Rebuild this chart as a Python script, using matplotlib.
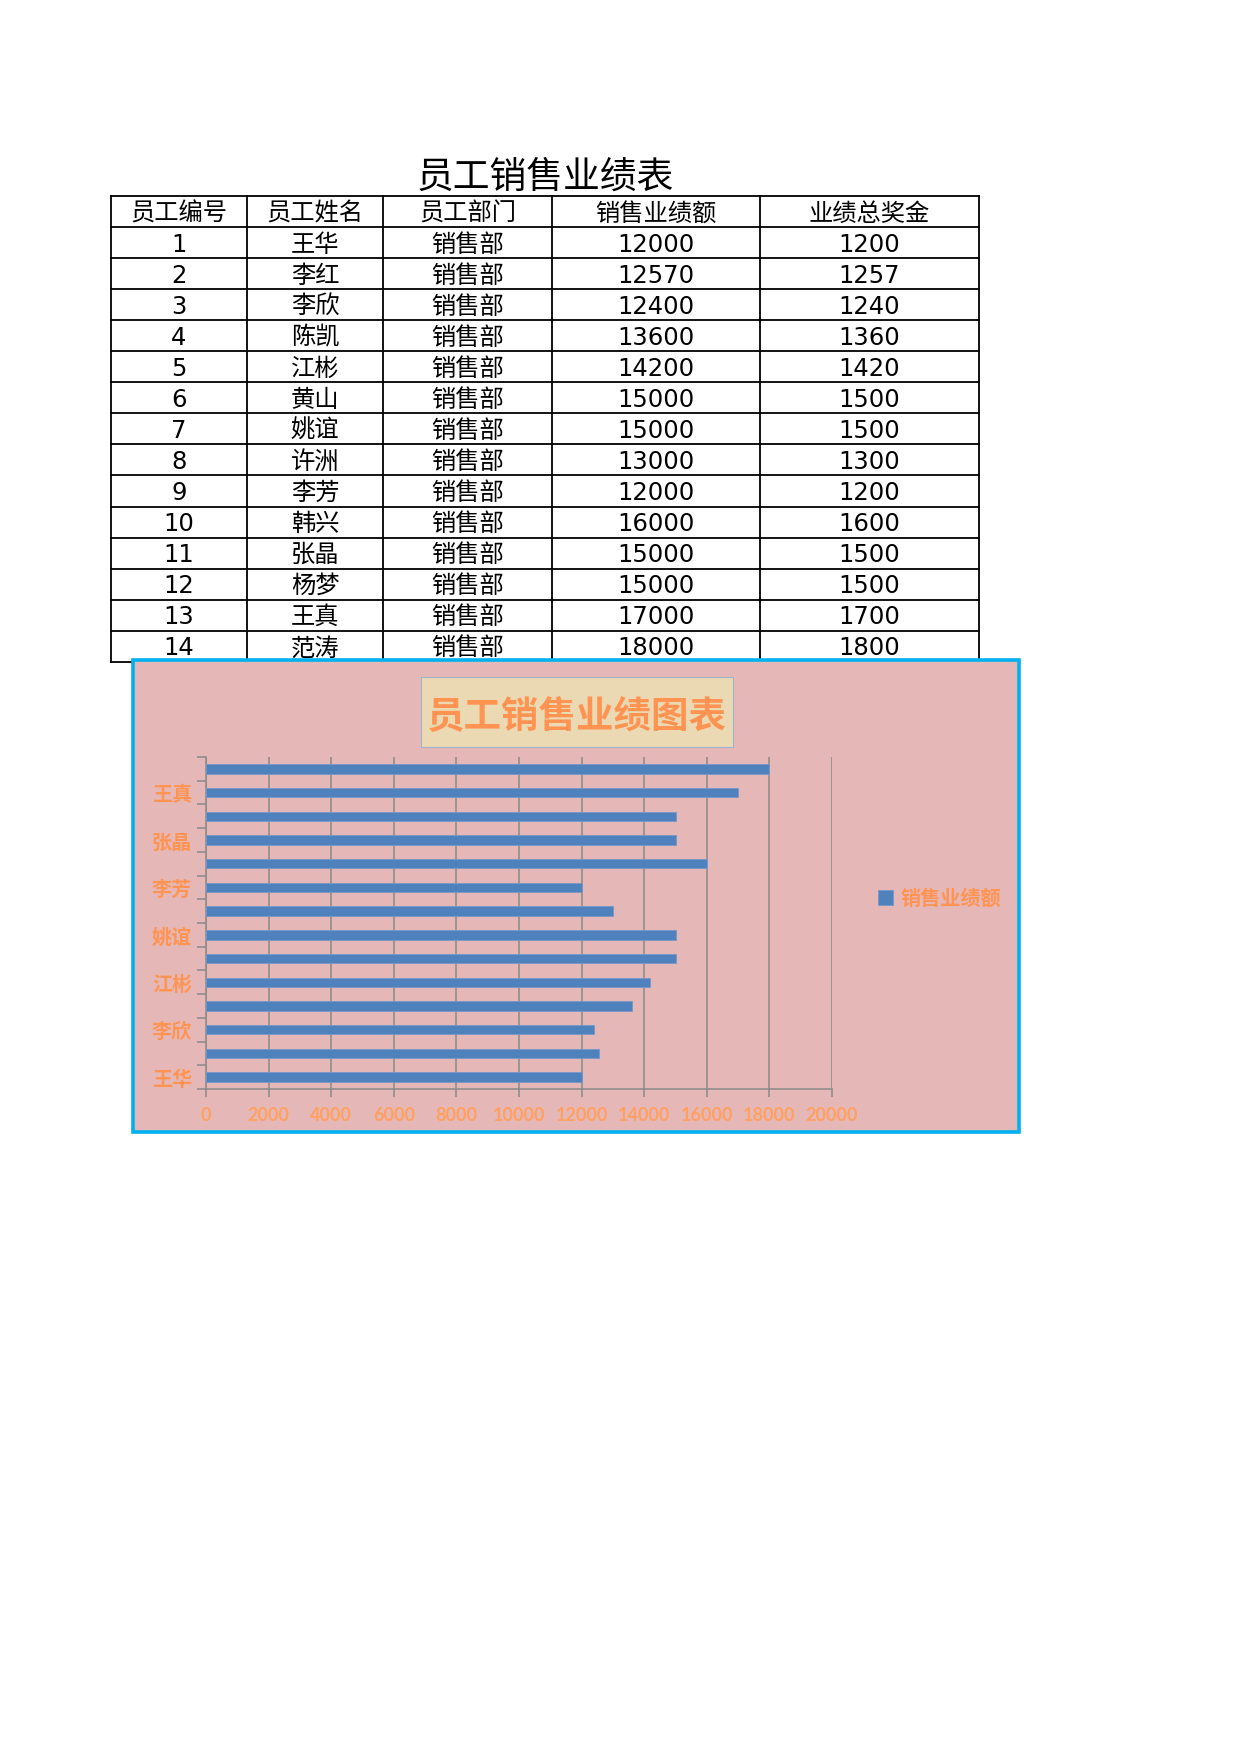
import matplotlib
matplotlib.use("Agg")
import matplotlib.pyplot as plt
from matplotlib.patches import Rectangle
from matplotlib.lines import Line2D

plt.rcParams['font.family'] = ['DejaVu Sans', 'Noto Sans CJK SC']

# ---- data ----
table_title = "员工销售业绩表"
headers = ["员工编号", "员工姓名", "员工部门", "销售业绩额", "业绩总奖金"]
ids = list(range(1, 15))
names = ['王华', '李红', '李欣', '陈凯', '江彬', '黄山', '姚谊', '许洲', '李芳', '韩兴', '张晶', '杨梦', '王真', '范涛']
depts = ['销售部'] * 14
sales = [12000, 12570, 12400, 13600, 14200, 15000, 15000, 13000, 12000, 16000, 15000, 15000, 17000, 18000]
bonus = [1200, 1257, 1240, 1360, 1420, 1500, 1500, 1300, 1200, 1600, 1500, 1500, 1700, 1800]
chart_title = "员工销售业绩图表"
series_name = "销售业绩额"
xticks = [0, 2000, 4000, 6000, 8000, 10000, 12000, 14000, 16000, 18000, 20000]

W, H = 1240, 1754
fig = plt.figure(figsize=(W / 100, H / 100), dpi=100)


def fx(x):
    return x / W


def fy(y):
    return 1 - y / H


# ---- table ----
col_edges = [111, 247, 383, 552, 760, 979]
top = 196
row_h = 31.05
n_rows = len(ids) + 1
bottom = top + n_rows * row_h

fig.text(fx((col_edges[0] + col_edges[-1]) / 2), fy(177), table_title,
         ha='center', va='center', fontsize=26.5, color='black', zorder=0.5)

lw_t = 1.3
for i in range(n_rows + 1):
    y = top + i * row_h
    fig.add_artist(Line2D([fx(col_edges[0]), fx(col_edges[-1])], [fy(y), fy(y)],
                          color='black', lw=lw_t, zorder=0.5))
for x in col_edges:
    fig.add_artist(Line2D([fx(x), fx(x)], [fy(top), fy(bottom)],
                          color='black', lw=lw_t, zorder=0.5))

centers = [(col_edges[i] + col_edges[i + 1]) / 2 for i in range(5)]
for j, h in enumerate(headers):
    fig.text(fx(centers[j]), fy(top + row_h / 2 + 2), h, ha='center', va='center',
             fontsize=17.5, zorder=0.5)
for i in range(len(ids)):
    yc = top + (i + 1.5) * row_h + 2
    vals = [str(ids[i]), names[i], depts[i], str(sales[i]), str(bonus[i])]
    for j, v in enumerate(vals):
        fig.text(fx(centers[j]), fy(yc), v, ha='center', va='center',
                 fontsize=17.5, zorder=0.5)

# ---- chart area ----
cx0, cy0, cx1, cy1 = 133, 660, 1019, 1132
bg = '#E5B8B7'
fig.add_artist(Rectangle((fx(cx0), fy(cy1)), fx(cx1) - fx(cx0), fy(cy0) - fy(cy1),
                         transform=fig.transFigure, facecolor=bg,
                         edgecolor='#00B0F0', lw=2.6, zorder=1))

# title box
tx0, ty0, tx1, ty1 = 421, 677, 733, 747
fig.add_artist(Rectangle((fx(tx0), fy(ty1)), fx(tx1) - fx(tx0), fy(ty0) - fy(ty1),
                         transform=fig.transFigure, facecolor='#EBD9B4',
                         edgecolor='#9FB3CC', lw=0.8, zorder=3))
orange = '#FF9452'
fig.text(fx((tx0 + tx1) / 2), fy(716), chart_title, ha='center', va='center',
         fontsize=27, fontweight='bold', color=orange,
         family=['Noto Sans CJK SC'], zorder=4)

# axes
ax_l, ax_t, ax_r, ax_b = 206, 757, 832, 1089
ax = fig.add_axes([fx(ax_l), fy(ax_b), fx(ax_r) - fx(ax_l), fy(ax_t) - fy(ax_b)])
ax.set_zorder(2)
ax.patch.set_alpha(0)

ypos = list(range(len(names)))
ax.barh(ypos, sales, height=0.4, color='#4F81BD', edgecolor='#7497C9',
        linewidth=0.6, label=series_name, zorder=3)
ax.set_xlim(0, 20000)
ax.set_ylim(-0.5, len(names) - 0.5)

grid_c = '#8A8A8A'
ax.set_xticks(xticks)
ax.set_xticklabels([str(t) for t in xticks])
ax.xaxis.grid(True, color=grid_c, lw=1.1, zorder=1)
ax.set_axisbelow(True)

ax.set_yticks([k - 0.5 for k in range(len(names) + 1)])
ax.set_yticklabels([])
ax.set_yticks(ypos[::2], minor=True)
ax.set_yticklabels(names[::2], minor=True)

for s in ['top', 'right']:
    ax.spines[s].set_visible(False)
for s in ['left', 'bottom']:
    ax.spines[s].set_color(grid_c)
    ax.spines[s].set_linewidth(1.1)

ax.tick_params(axis='x', which='major', length=6, width=1.1, color=grid_c,
               direction='out', pad=7, labelsize=13, labelcolor='#FFA060')
for lab in ax.get_xticklabels():
    lab.set_family(['Lato', 'DejaVu Sans'])
    lab.set_fontweight('bold')
ax.tick_params(axis='y', which='major', length=6.5, width=1.1, color=grid_c,
               direction='out')
ax.tick_params(axis='y', which='minor', length=0, pad=10, labelsize=14.5,
               labelcolor=orange)
for lab in ax.get_yticklabels(minor=True):
    lab.set_family(['Noto Sans CJK SC'])
    lab.set_fontweight('bold')

leg = ax.legend(loc='center left', bbox_to_anchor=(fx(878), fy(898)),
                bbox_transform=fig.transFigure, frameon=False,
                handlelength=0.75, handleheight=0.75, handletextpad=0.35,
                borderpad=0, borderaxespad=0,
                prop={'family': ['Noto Sans CJK SC'], 'weight': 'bold', 'size': 14.5},
                labelcolor=orange)

fig.savefig('out.png', dpi=100, facecolor='white')
